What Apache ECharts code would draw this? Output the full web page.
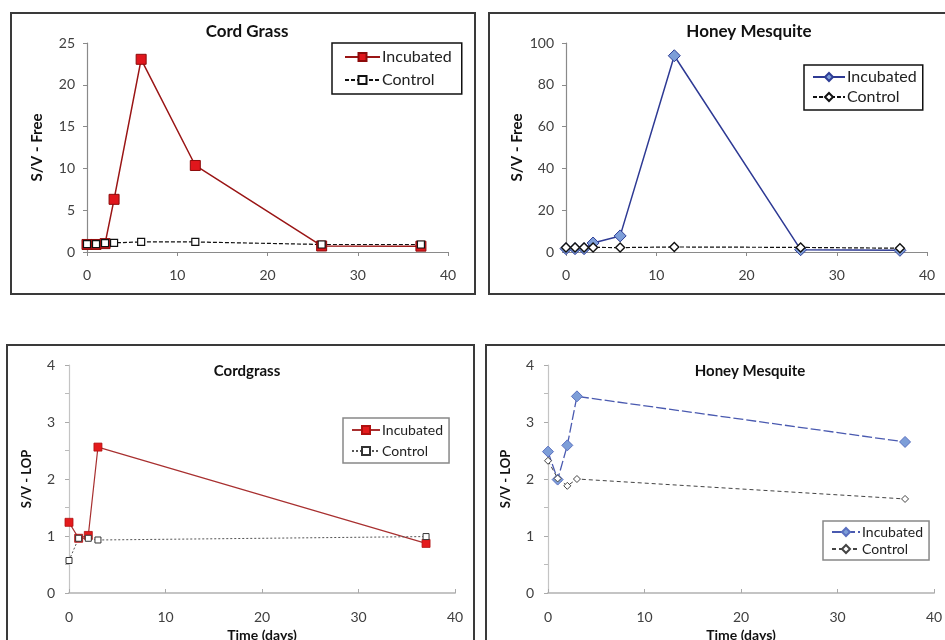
<!DOCTYPE html>
<html>
<head>
<meta charset="utf-8">
<script src="https://cdn.jsdelivr.net/npm/echarts@6/dist/echarts.min.js"></script>
<style>
  html, body { margin: 0; padding: 0; background: #fff; }
  #chart { width: 945px; height: 640px; }
</style>
</head>
<body>
<div id="chart"></div>
<script>
// Sampling days
const daysFree = [0, 1, 2, 3, 6, 12, 26, 37];
const daysLop = [0, 1, 2, 3, 37];

// S/V - Free
const cordFreeIncubated = [0.9, 0.9, 1.0, 6.3, 23.05, 10.35, 0.72, 0.7];
const cordFreeControl = [0.95, 0.95, 1.05, 1.1, 1.2, 1.2, 0.9, 0.9];
const mesqFreeIncubated = [1.6, 1.6, 1.6, 4.3, 7.7, 93.9, 1.1, 0.8];
const mesqFreeControl = [2.1, 2.1, 2.1, 2.2, 2.1, 2.4, 2.2, 1.8];

// S/V - LOP
const cordLopIncubated = [1.24, 0.96, 1.01, 2.56, 0.87];
const cordLopControl = [0.57, 0.96, 0.96, 0.93, 0.99];
const mesqLopIncubated = [2.48, 1.99, 2.59, 3.45, 2.65];
const mesqLopControl = [2.32, 2.01, 1.88, 2.0, 1.65];

// Panel titles and axis names
const panelTitles = ['Cord Grass', 'Honey Mesquite', 'Cordgrass', 'Honey Mesquite'];
const yNames = ['S/V - Free', 'S/V - Free', 'S/V - LOP', 'S/V - LOP'];
const xName = 'Time (days)';
const seriesNames = ['Incubated', 'Control'];

const FONT = 'Lato, "Open Sans", sans-serif';
const pair = (xs, ys) => xs.map((x, i) => [x, ys[i]]);
// each panel keeps its own legend entries; the "#n" suffix is stripped when drawn
const keyed = (name, i) => name + '#' + i;

const grids = [
  { left: 87, top: 43, width: 361, height: 209 },
  { left: 566, top: 43, width: 361, height: 209 },
  { left: 69, top: 365, width: 386, height: 228 },
  { left: 548, top: 365, width: 386, height: 228 }
].map(g => Object.assign(g, { containLabel: false, outerBoundsMode: 'none' }));

const topAxisColor = '#8a8a8a';
const lowAxisColor = '#c4c4c4';

function xAxis(i) {
  const low = i >= 2;
  return {
    gridIndex: i, type: 'value', min: 0, max: 40, interval: 10,
    name: low ? xName : '', nameLocation: 'middle', nameGap: 35,
    nameTextStyle: { fontFamily: FONT, fontWeight: 'bold', fontSize: 14, color: '#111' },
    axisLine: { show: true, lineStyle: { color: low ? lowAxisColor : topAxisColor, width: low ? 2 : 1.2 } },
    axisTick: { show: true, inside: low, length: 4, lineStyle: { color: low ? '#aaa' : topAxisColor } },
    axisLabel: { fontFamily: FONT, fontSize: 14, color: '#404040', margin: low ? 17 : 16 },
    splitLine: { show: false }
  };
}

function yAxis(i, max, interval) {
  const low = i >= 2;
  return {
    gridIndex: i, type: 'value', min: 0, max: max, interval: interval,
    name: yNames[i], nameLocation: 'middle', nameRotate: 90,
    nameGap: low ? 36 : (i === 0 ? 42 : 41),
    nameTextStyle: { fontFamily: FONT, fontWeight: 'bold', fontSize: low ? 13 : 15, color: '#111' },
    axisLine: { show: true, lineStyle: { color: low ? lowAxisColor : topAxisColor, width: 1.2 } },
    axisTick: { show: true, length: 4, lineStyle: { color: low ? '#aaa' : topAxisColor } },
    minorTick: { show: low, splitNumber: 2, length: 4, lineStyle: { color: '#bbb' } },
    axisLabel: { fontFamily: FONT, fontSize: 14, color: '#404040', margin: low ? 14 : 12 },
    splitLine: { show: false }
  };
}

const series = [
  // Cord Grass, free
  {
    name: keyed(seriesNames[0], 0), type: 'line', xAxisIndex: 0, yAxisIndex: 0,
    data: pair(daysFree, cordFreeIncubated),
    symbol: 'rect', symbolSize: 10,
    itemStyle: { color: '#e0161c', borderColor: '#8c0a0a', borderWidth: 1 },
    lineStyle: { color: '#9a1515', width: 1.5 }
  },
  {
    name: keyed(seriesNames[1], 0), type: 'line', xAxisIndex: 0, yAxisIndex: 0,
    data: pair(daysFree, cordFreeControl),
    symbol: 'rect', symbolSize: 7,
    itemStyle: { color: '#fff', borderColor: '#111', borderWidth: 1.2 },
    lineStyle: { color: '#111', width: 1.2, type: [4, 2] }
  },
  // Honey Mesquite, free
  {
    name: keyed(seriesNames[0], 1), type: 'line', xAxisIndex: 1, yAxisIndex: 1,
    data: pair(daysFree, mesqFreeIncubated),
    symbol: 'diamond', symbolSize: 12,
    itemStyle: { color: '#7d9ed8', borderColor: '#2e3d96', borderWidth: 1 },
    lineStyle: { color: '#2e3a94', width: 1.5 }
  },
  {
    name: keyed(seriesNames[1], 1), type: 'line', xAxisIndex: 1, yAxisIndex: 1,
    data: pair(daysFree, mesqFreeControl),
    symbol: 'diamond', symbolSize: 9,
    itemStyle: { color: '#fff', borderColor: '#111', borderWidth: 1.4 },
    lineStyle: { color: '#111', width: 1.2, type: [4, 2] }
  },
  // Cordgrass, LOP
  {
    name: keyed(seriesNames[0], 2), type: 'line', xAxisIndex: 2, yAxisIndex: 2,
    data: pair(daysLop, cordLopIncubated),
    symbol: 'rect', symbolSize: 8,
    itemStyle: { color: '#e41a1c', borderColor: '#b01010', borderWidth: 0.8 },
    lineStyle: { color: '#a83030', width: 1.2 }
  },
  {
    name: keyed(seriesNames[1], 2), type: 'line', xAxisIndex: 2, yAxisIndex: 2,
    data: pair(daysLop, cordLopControl),
    symbol: 'rect', symbolSize: 6,
    itemStyle: { color: '#fff', borderColor: '#333', borderWidth: 1 },
    lineStyle: { color: '#555', width: 1, type: [2, 2] }
  },
  // Honey Mesquite, LOP
  {
    name: keyed(seriesNames[0], 3), type: 'line', xAxisIndex: 3, yAxisIndex: 3,
    data: pair(daysLop, mesqLopIncubated),
    symbol: 'diamond', symbolSize: 11,
    itemStyle: { color: '#7d9ed8', borderColor: '#5a70c0', borderWidth: 1 },
    lineStyle: { color: '#4a5ab0', width: 1.3, type: [10, 3] }
  },
  {
    name: keyed(seriesNames[1], 3), type: 'line', xAxisIndex: 3, yAxisIndex: 3,
    data: pair(daysLop, mesqLopControl),
    symbol: 'diamond', symbolSize: 7,
    itemStyle: { color: '#fff', borderColor: '#444', borderWidth: 1 },
    lineStyle: { color: '#444', width: 1, type: [4, 3] }
  }
];

function legend(i, left, top, opts) {
  const fontSize = opts.fontSize || 16;
  return {
    orient: 'vertical', left: left, top: top,
    data: seriesNames.map(n => keyed(n, i)),
    formatter: n => n.split('#')[0],
    borderWidth: 1.5, borderColor: opts.borderColor || '#111', backgroundColor: '#fff',
    itemWidth: opts.itemWidth || 35, itemHeight: 10, itemGap: opts.itemGap,
    textStyle: { fontFamily: FONT, fontSize: fontSize, color: '#222', padding: [0, 0, 0, -3] },
    padding: opts.padding
  };
}

const titles = panelTitles.map((t, i) => ({
  text: t,
  left: [242, 744, 242, 745][i], top: [18, 18, 359, 359][i],
  textAlign: 'center',
  textStyle: { fontFamily: FONT, fontWeight: 'bold', fontSize: i >= 2 ? 15 : 17, color: '#111' }
}));

// Outer frames around each panel
const frames = [
  [11, 13, 464, 281], [489, 13, 470, 281],
  [7, 345, 467, 310], [486, 345, 470, 310]
].map(([x, y, w, h]) => ({
  type: 'rect', shape: { x: x, y: y, width: w, height: h },
  style: { fill: null, stroke: '#3a3a3a', lineWidth: 2 }, silent: true, z: -1
}));

const chart = echarts.init(document.getElementById('chart'), null, { renderer: 'canvas' });
chart.setOption({
  animation: false,
  backgroundColor: '#fff',
  title: titles,
  graphic: frames,
  grid: grids,
  xAxis: [0, 1, 2, 3].map(xAxis),
  yAxis: [yAxis(0, 25, 5), yAxis(1, 100, 20), yAxis(2, 4, 1), yAxis(3, 4, 1)],
  legend: [
    legend(0, 332, 43, { itemGap: 7, padding: [6, 10, 6, 12] }),
    legend(1, 804, 65, { itemGap: 4, padding: [4, 6, 5, 8], fontSize: 16, itemWidth: 32 }),
    legend(2, 343, 418, { borderColor: '#888', fontSize: 14, itemGap: 7, padding: [5, 6, 5, 8], itemWidth: 28 }),
    legend(3, 823, 521, { borderColor: '#888', fontSize: 14, itemGap: 3, padding: [4, 6, 4, 8], itemWidth: 28 })
  ],
  series: series
});
</script>
</body>
</html>
